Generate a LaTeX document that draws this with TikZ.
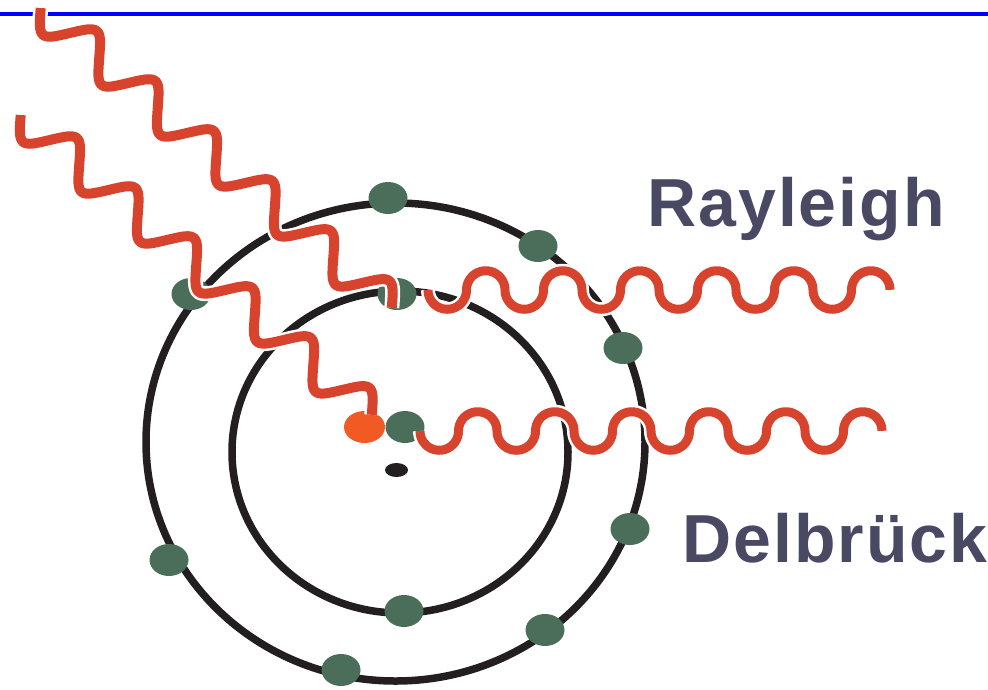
\documentclass[tikz,border=0pt]{standalone}
\usepackage{fontspec}
\setmainfont{Liberation Sans}
\newfontfamily\labelfont[LetterSpace=3.0]{Liberation Sans}
\definecolor{orbitblack}{HTML}{231F20}
\definecolor{electrongreen}{HTML}{4A6E5A}
\definecolor{photonred}{HTML}{D7432D}
\definecolor{targetorange}{HTML}{F15A22}
\definecolor{labelgray}{HTML}{4A4963}
\definecolor{topblue}{HTML}{0000FF}
\begin{document}
\begin{tikzpicture}[x=1pt,y=-1pt,
  orbit/.style={draw=orbitblack,line width=7.5pt},
  electron/.style={fill=electrongreen},
  halo/.style={draw=white,line width=14pt},
  inhalo/.style={draw=white,line width=15pt},
  inwave/.style={draw=photonred,line width=10pt},
  outwave/.style={draw=photonred,line width=9pt},
  wavelabel/.style={font=\labelfont\bfseries\fontsize{68}{70}\selectfont,text=labelgray,inner sep=0pt,anchor=base west},
  declare function={wv(\s)=18.3*(sin(4.675325*\s)-0.03*sin(14.025974*\s));}]
\useasboundingbox (0,0) rectangle (988,689);
% top rule
\coordinate (ruleL) at (0,13.7);
\coordinate (ruleR) at (988,13.7);
\draw[topblue,line width=4pt] (ruleL) -- (ruleR);
% orbits
\coordinate (outerC) at (395.5,442);
\coordinate (innerC) at (400,452);
\draw[orbit] (outerC) ellipse [x radius=249.5pt, y radius=239pt];
\draw[orbit] (innerC) ellipse [x radius=168pt, y radius=161pt];
% electrons
\foreach \n/\p in {e1/{(388,198)},e2/{(538,246)},e3/{(623,348)},e4/{(630,529)},e5/{(545,630)},e6/{(341,670)},e7/{(169,560)},e8/{(191,294)},e9/{(397,294)},e10/{(404,611)},e11/{(405,427)}}
  \fill[electron] \p ellipse [x radius=19.5pt, y radius=16pt];
% nucleus and target electron
\fill[orbitblack] (396.5,470) ellipse [x radius=11.5pt, y radius=7pt];
\fill[targetorange] (364.5,427) ellipse [x radius=20.5pt, y radius=16pt];
% incoming photons
\foreach \sx/\sy in {40.7/8, 20.7/115}{
  \draw[inhalo] plot[domain=0:462,samples=500] ({\sx+0.760*\x-0.649*wv(\x)},{\sy+0.649*\x+0.760*wv(\x)});
  \draw[inwave] plot[domain=0:462,samples=500] ({\sx+0.760*\x-0.649*wv(\x)},{\sy+0.649*\x+0.760*wv(\x)});
}
% outgoing photons
\foreach \sx/\sy in {428/290, 420/431}{
  \draw[halo] plot[domain=0:12,samples=481] ({\sx+38.5*floor(\x)+19.25*(1-cos(180*(\x-floor(\x))))},{\sy+(1-2*mod(floor(\x),2))*19.25*sin(180*(\x-floor(\x)))});
  \draw[outwave] plot[domain=0:12,samples=481] ({\sx+38.5*floor(\x)+19.25*(1-cos(180*(\x-floor(\x))))},{\sy+(1-2*mod(floor(\x),2))*19.25*sin(180*(\x-floor(\x)))});
}
% labels
\node[wavelabel] (rayleigh) at (647,226) {Rayleigh};
\node[wavelabel] (delbrueck) at (682,562) {Delbrück};
\end{tikzpicture}
\end{document}
